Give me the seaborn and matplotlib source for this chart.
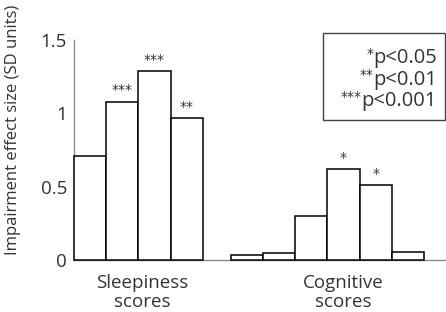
import numpy as np
import pandas as pd
import matplotlib
matplotlib.use("Agg")
import matplotlib.pyplot as plt
import seaborn as sns
from matplotlib.patches import Rectangle

# values
sleep_vals = [0.71, 1.08, 1.29, 0.97]
sleep_stars = ["", "***", "***", "**"]
cog_vals = [0.035, 0.05, 0.30, 0.62, 0.51, 0.052]
cog_stars = ["", "", "", "*", "*", ""]
group_labels = ["Sleepiness\nscores", "Cognitive\nscores"]
legend_stars = ["*", "**", "***"]
legend_text = ["p<0.05", "p<0.01", "p<0.001"]
y_ticks = [0, 0.5, 1, 1.5]
y_ticklabels = ["0", "0.5", "1", "1.5"]

TXT = "#333333"
GREY = "#8a8a8a"
STAR_FONT = ["DejaVu Sans"]
GAP = 0.875  # gap between the two groups, in bar widths


def build_frame():
    rows = []
    for i, (v, s) in enumerate(zip(sleep_vals, sleep_stars)):
        rows.append({"pos": i + 0.5, "value": v, "stars": s, "group": 0})
    start = len(sleep_vals) + GAP
    for i, (v, s) in enumerate(zip(cog_vals, cog_stars)):
        rows.append({"pos": start + i + 0.5, "value": v, "stars": s, "group": 1})
    return pd.DataFrame(rows)


def main():
    sns.set_style("white")
    plt.rcParams["font.family"] = ["Open Sans", "DejaVu Sans"]

    df = build_frame()

    fig = plt.figure(figsize=(4.46, 3.12), dpi=100)
    ax = fig.add_axes([0.166, 0.1667, 0.834, 0.7051])

    sns.barplot(data=df, x="pos", y="value", native_scale=True, width=1.0,
                color="white", edgecolor="black", linewidth=1.1,
                errorbar=None, ax=ax, zorder=3)
    for p in ax.patches:
        p.set_facecolor("white")
        p.set_clip_on(False)

    # significance stars over the bars
    for _, r in df.iterrows():
        if r["stars"]:
            ax.annotate(r["stars"], (r["pos"], r["value"]), xytext=(0, 3),
                        textcoords="offset points", ha="center", va="bottom",
                        fontsize=10, color=TXT, family=STAR_FONT)

    ax.set_xlim(0, 11.56)
    ax.set_ylim(0, 1.5)
    sns.despine(ax=ax)
    for side in ["left", "bottom"]:
        ax.spines[side].set_color(GREY)
        ax.spines[side].set_linewidth(1.0)

    ax.set_yticks(y_ticks)
    ax.set_yticklabels(y_ticklabels)
    ax.tick_params(axis="y", direction="in", length=4.5, width=1.0,
                   color=GREY, labelcolor=TXT, labelsize=13.5, pad=5)

    n_s = len(sleep_vals)
    centers = [n_s / 2 + 0.12, n_s + GAP + len(cog_vals) / 2 + 0.5]
    ax.set_xticks(centers)
    ax.set_xticklabels(group_labels, linespacing=1.1)
    ax.tick_params(axis="x", length=0, labelcolor=TXT, labelsize=13.5, pad=10)
    ax.set_xlabel("")
    ax.set_ylabel("Impairment effect size (SD units)", fontsize=12,
                  color=TXT)
    ax.yaxis.set_label_coords(-0.142, 0.59)

    # p-value key in a box at the top right
    fig.patches.append(Rectangle((323 / 446, 1 - 120 / 312), 122 / 446, 87 / 312,
                                 transform=fig.transFigure, fill=False,
                                 edgecolor="#444444", linewidth=1.0))
    fig.canvas.draw()
    renderer = fig.canvas.get_renderer()
    for i, (st, tx) in enumerate(zip(legend_stars, legend_text)):
        yc = 1 - (58 + 21.5 * i) / 312
        t = fig.text(437 / 446, yc, tx, ha="right", va="center",
                     fontsize=14.5, color=TXT)
        bb = t.get_window_extent(renderer)
        fig.text(bb.x0 / fig.bbox.width, yc + 0.014, st, ha="right",
                 va="center", fontsize=10, color=TXT, family=STAR_FONT)

    fig.savefig("out.png", dpi=100)


if __name__ == "__main__":
    main()
